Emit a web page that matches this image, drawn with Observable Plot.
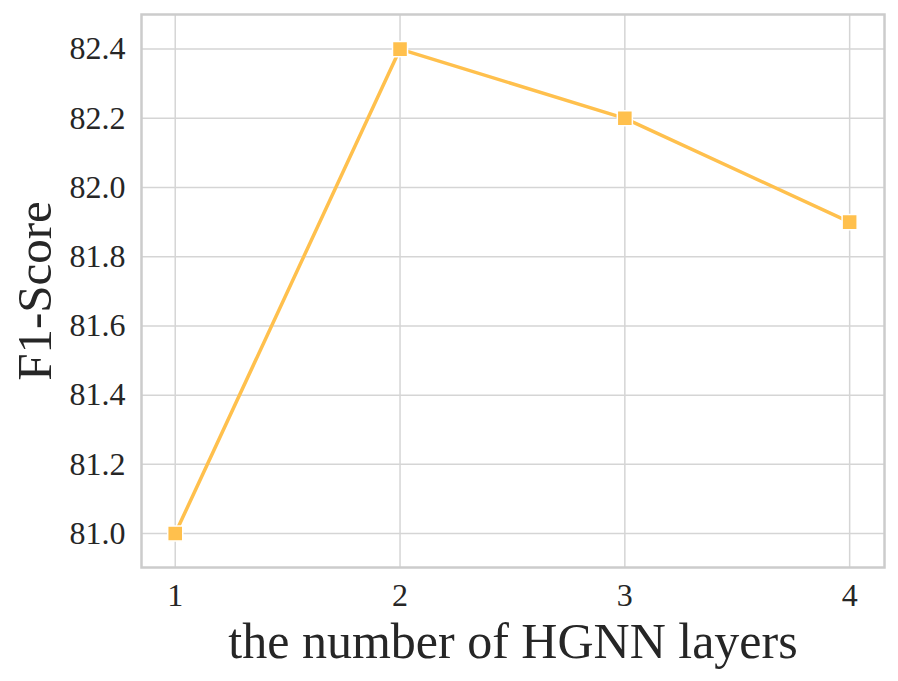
<!DOCTYPE html>
<html><head><meta charset="utf-8">
<script src="https://cdn.jsdelivr.net/npm/d3@7"></script>
<script src="https://cdn.jsdelivr.net/npm/@observablehq/plot@0.6"></script>
<style>
html,body{margin:0;padding:0;background:#fff;}
svg{display:block;}
.f1chart, .f1chart g, .f1chart text{font-family:'Liberation Serif','Times New Roman',serif !important;font-variant:normal !important;font-variant-numeric:normal !important;}
.f1chart g[aria-label="x-axis tick label"] text,
.f1chart g[aria-label="y-axis tick label"] text{font-size:32px !important;fill:#262626;}
</style>
</head><body>
<div id="chart"></div>
<script>
const layers = [1, 2, 3, 4];
const f1 = [81.0, 82.4, 82.2, 81.9];
const yTicks = [81.0, 81.2, 81.4, 81.6, 81.8, 82.0, 82.2, 82.4];
const xTicks = [1, 2, 3, 4];
const data = layers.map((l, i) => ({layer: l, f1: f1[i]}));

const chart = Plot.plot({
  width: 898, height: 681,
  className: "f1chart",
  marginLeft: 141, marginRight: 14, marginTop: 14, marginBottom: 114,
  style: {fontFamily: "'Liberation Serif', 'Times New Roman', serif", color: "#262626", background: "#fff"},
  x: {domain: [0.85, 4.155], ticks: xTicks, tickFormat: d => String(d), label: null},
  y: {domain: [80.902, 82.5], ticks: yTicks, tickFormat: d => d.toFixed(1), label: null},
  marks: [
    Plot.gridX(xTicks, {stroke: "#d5d5d5", strokeOpacity: 1, strokeWidth: 1.5}),
    Plot.gridY(yTicks, {stroke: "#d5d5d5", strokeOpacity: 1, strokeWidth: 1.5}),
    Plot.axisX(xTicks, {tickSize: 0, tickPadding: 16, fontSize: 32, fontFamily: "Liberation Serif", tickFormat: d => String(d), label: null}),
    Plot.axisY(yTicks, {tickSize: 0, tickPadding: 16, fontSize: 32, fontFamily: "Liberation Serif", tickFormat: d => d.toFixed(1), label: null}),
    Plot.frame({stroke: "#cccccc", strokeWidth: 2.5}),
    Plot.line(data, {x: "layer", y: "f1", stroke: "#ffc04d", strokeWidth: 3.5}),
    Plot.dot(data, {x: "layer", y: "f1", symbol: "square", r: 8.5, fill: "#ffc04d", stroke: "#ffffff", strokeWidth: 1.5}),
    Plot.text(["the number of HGNN layers"], {frameAnchor: "bottom", dy: 90, fontSize: 50, fill: "#262626", lineAnchor: "bottom"}),
    Plot.text(["F1-Score"], {frameAnchor: "left", textAnchor: "middle", dx: -106, rotate: -90, fontSize: 49, fill: "#262626"})
  ]
});
document.getElementById("chart").appendChild(chart);
</script>
</body></html>
